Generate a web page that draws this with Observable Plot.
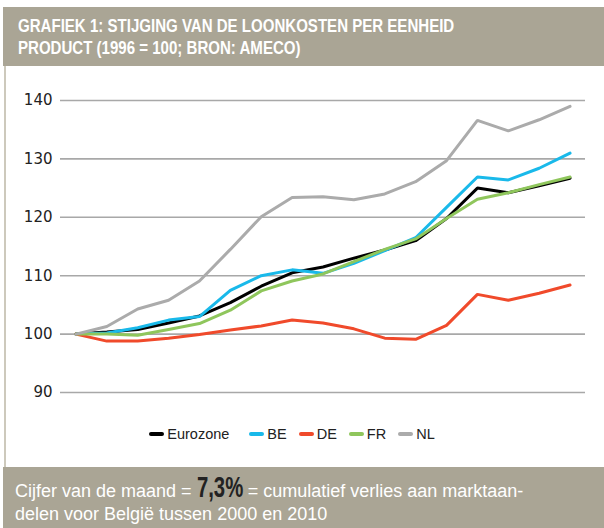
<!DOCTYPE html>
<html>
<head>
<meta charset="utf-8">
<script src="https://cdn.jsdelivr.net/npm/d3@7"></script>
<script src="https://cdn.jsdelivr.net/npm/@observablehq/plot@0.6"></script>
<style>
  html, body { margin: 0; padding: 0; background: #fff; }
  body { width: 604px; height: 528px; position: relative; overflow: hidden; font-family: "Liberation Sans", Arial, sans-serif; }
  #header { position: absolute; left: 3px; top: 7px; width: 601px; height: 59px; background: #aaa595; }
  .tline { position: absolute; left: 15px; color: #fff; font-weight: bold; font-size: 17.5px; white-space: nowrap; transform: scaleX(0.86); transform-origin: left center; }
  #border { position: absolute; left: 4px; top: 66px; width: 2px; height: 402px; background: #cdc9bc; }
  #chart { position: absolute; left: 0; top: 66px; }
  #legend { position: absolute; left: 0; top: 426px; width: 584px; display: flex; justify-content: center; align-items: center; font-size: 14.5px; color: #222; }
  .item { display: flex; align-items: center; margin: 0 6px; }
  .sw { display: inline-block; width: 15px; height: 4px; border-radius: 2px; margin-right: 3px; }
  #footer { position: absolute; left: 3px; top: 467px; width: 601px; height: 61px; background: #aaa595; }
  .fline { position: absolute; left: 12px; color: #fff; font-size: 18px; white-space: nowrap; }
  .big { display: inline-block; font-size: 29px; font-weight: bold; color: #222; transform: scaleX(0.7); transform-origin: center; margin: 0 -10px; line-height: 0; }
</style>
</head>
<body>
<div id="header">
  <div class="tline" style="top:9px">GRAFIEK 1: STIJGING VAN DE LOONKOSTEN PER EENHEID</div>
  <div class="tline" style="top:31px">PRODUCT (1996 = 100; BRON: AMECO)</div>
</div>
<div id="border"></div>
<div id="chart"></div>
<div id="legend"></div>
<div id="footer">
  <div class="fline" style="top:13px; line-height:22px;">Cijfer van de maand = <span class="big">7,3%</span> = cumulatief verlies aan marktaan-</div>
  <div class="fline" style="top:36px; line-height:22px;">delen voor België tussen 2000 en 2010</div>
</div>
<script>
const years = [1996,1997,1998,1999,2000,2001,2002,2003,2004,2005,2006,2007,2008,2009,2010,2011,2012];
const seriesNames = ["Eurozone", "BE", "DE", "FR", "NL"];
const seriesColors = ["#000000", "#19b9ea", "#f04a2b", "#8fc65c", "#ababab"];
const eurozone = [100, 100.35, 100.8, 101.9, 103.1, 105.4, 108.2, 110.5, 111.5, 113.0, 114.4, 116.0, 119.8, 125.0, 124.2, 125.4, 126.7];
const be       = [100, 100.2, 101.1, 102.4, 103.0, 107.5, 110.0, 111.0, 110.4, 112.1, 114.3, 116.5, 121.7, 126.9, 126.4, 128.4, 131.0];
const de       = [100, 98.8, 98.8, 99.3, 99.95, 100.7, 101.4, 102.4, 101.9, 100.9, 99.3, 99.1, 101.5, 106.8, 105.8, 107.0, 108.4];
const fr       = [100, 100.0, 99.8, 100.8, 101.8, 104.1, 107.4, 109.1, 110.3, 112.4, 114.5, 116.3, 119.8, 123.1, 124.2, 125.6, 126.9];
const nl       = [100, 101.3, 104.3, 105.8, 109.1, 114.5, 120.1, 123.4, 123.5, 123.0, 124.0, 126.1, 129.7, 136.6, 134.8, 136.7, 139.0];
const yTicks = [90, 100, 110, 120, 130, 140];

const valuesBySeries = [eurozone, be, de, fr, nl];
const rows = [];
seriesNames.forEach((s, si) => {
  years.forEach((yr, i) => rows.push({series: s, year: yr, value: valuesBySeries[si][i]}));
});

const chart = Plot.plot({
  width: 604,
  height: 340,
  marginLeft: 60,
  marginRight: 19,
  marginTop: 34,
  marginBottom: 14,
  style: { fontFamily: "'DejaVu Sans', sans-serif", fontSize: "15px", color: "#222", background: "transparent" },
  x: { domain: [1995.5, 2012.5], axis: null },
  y: { domain: [90, 140], axis: null },
  color: { domain: seriesNames, range: seriesColors },
  marks: [
    Plot.gridY(yTicks, { stroke: "#a8a8a8", strokeOpacity: 1, strokeWidth: 1.6 }),
    Plot.axisY(yTicks, { tickSize: 0, tickPadding: 8, label: null, fill: "#222", fontSize: 15 }),
    Plot.line(rows, { x: "year", y: "value", z: "series", stroke: "series", strokeWidth: 3, strokeLinejoin: "miter" })
  ]
});
document.getElementById("chart").appendChild(chart);

const legend = document.getElementById("legend");
seriesNames.forEach((s, i) => {
  const item = document.createElement("div");
  item.className = "item";
  if (i === 0) item.style.marginRight = "14px";
  const sw = document.createElement("span");
  sw.className = "sw";
  sw.style.background = seriesColors[i];
  const t = document.createElement("span");
  t.textContent = s;
  item.appendChild(sw);
  item.appendChild(t);
  legend.appendChild(item);
});
</script>
</body>
</html>
